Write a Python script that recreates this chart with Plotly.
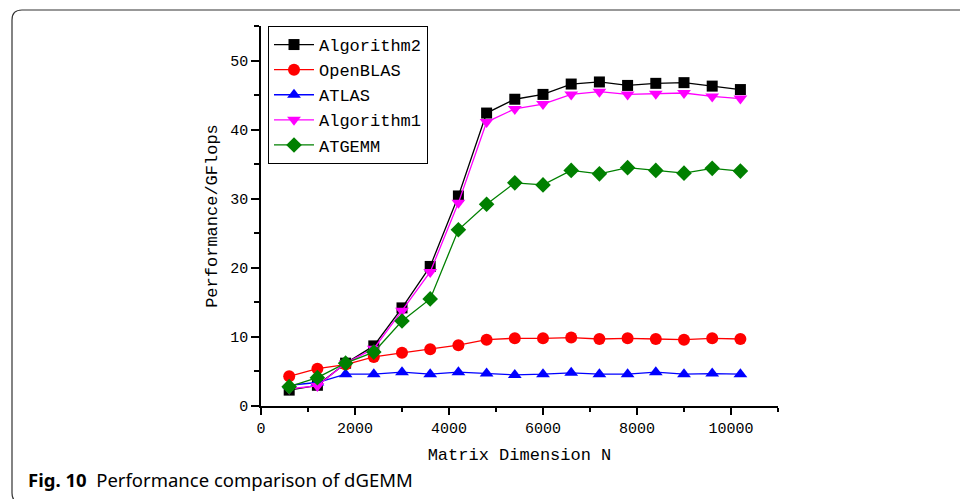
import plotly.graph_objects as go

N = [600, 1200, 1800, 2400, 3000, 3600, 4200, 4800, 5400, 6000,
     6600, 7200, 7800, 8400, 9000, 9600, 10200]

algorithm2 = [2.3, 3.0, 6.2, 8.7, 14.2, 20.2, 30.4, 42.4, 44.4, 45.1,
              46.6, 46.9, 46.4, 46.7, 46.8, 46.3, 45.8]
openblas = [4.3, 5.4, 6.0, 7.1, 7.7, 8.2, 8.8, 9.6, 9.8, 9.8,
            9.9, 9.7, 9.8, 9.7, 9.6, 9.8, 9.7]
atlas = [3.0, 3.4, 4.6, 4.6, 4.9, 4.6, 4.9, 4.7, 4.5, 4.6,
         4.8, 4.6, 4.6, 4.9, 4.6, 4.7, 4.6]
algorithm1 = [2.5, 2.9, 6.2, 8.3, 13.8, 19.4, 29.4, 41.1, 43.0, 43.7,
              45.1, 45.5, 45.1, 45.2, 45.3, 44.8, 44.5]
atgemm = [2.8, 4.1, 6.2, 7.8, 12.3, 15.5, 25.5, 29.2, 32.3, 32.0,
          34.1, 33.6, 34.5, 34.1, 33.7, 34.4, 34.0]

x_ticks = [0, 2000, 4000, 6000, 8000, 10000]
y_ticks = [0, 10, 20, 30, 40, 50]

CHART_FONT = "Liberation Mono, Courier New, monospace"

series = [
    ("Algorithm2", algorithm2, "#000000", "square", 11),
    ("OpenBLAS", openblas, "#ff0000", "circle", 12),
    ("ATLAS", atlas, "#0000ff", "triangle-up", 12),
    ("Algorithm1", algorithm1, "#ff00ff", "triangle-down", 12),
    ("ATGEMM", atgemm, "#008000", "diamond", 12),
]

fig = go.Figure()
for name, vals, color, sym, sz in series:
    fig.add_trace(go.Scatter(
        x=N, y=vals, name=name, mode="lines+markers",
        line=dict(color=color, width=1.3),
        marker=dict(symbol=sym, size=sz, color=color, line=dict(width=0)),
    ))

L, R, T, B = 261, 182, 26, 93
W, H = 960, 499
pw, ph = W - L - R, H - T - B


def px(x):
    return (x - L) / pw


def py(y):
    return (H - B - y) / ph


# rounded frame around figure + caption
r = 10
left, top, right, bottom = 12, 10, 970, 503
path = (f"M {px(right)},{py(top)} L {px(left + r)},{py(top)} "
        f"Q {px(left)},{py(top)} {px(left)},{py(top + r)} "
        f"L {px(left)},{py(bottom - r)} "
        f"Q {px(left)},{py(bottom)} {px(left + r)},{py(bottom)} "
        f"L {px(right)},{py(bottom)}")

fig.update_layout(
    width=W, height=H,
    margin=dict(l=L, r=R, t=T, b=B, pad=0, autoexpand=False),
    plot_bgcolor="white", paper_bgcolor="white",
    font=dict(family=CHART_FONT, color="#000000"),
    showlegend=True,
    legend=dict(
        x=px(268), y=1.0, xanchor="left", yanchor="top",
        bordercolor="#000000", borderwidth=1, bgcolor="white",
        font=dict(family=CHART_FONT, size=17, color="#000000"),
        tracegroupgap=0, itemwidth=40,
    ),
    xaxis=dict(
        range=[0, 11000], tickvals=x_ticks, ticktext=[str(v) for v in x_ticks],
        showgrid=False, zeroline=False, showline=True, linecolor="#000000",
        linewidth=1.5, ticks="outside", ticklen=7, tickwidth=1.5, tickcolor="#000000",
        minor=dict(dtick=1000, tick0=0, ticks="outside", ticklen=4, tickwidth=1.5,
                   tickcolor="#000000", showgrid=False),
        tickfont=dict(family=CHART_FONT, size=15),
        title=dict(text="Matrix Dimension N", font=dict(family=CHART_FONT, size=17),
                   standoff=11),
        automargin=False,
    ),
    yaxis=dict(
        range=[0, 55], tickvals=y_ticks, ticktext=[str(v) for v in y_ticks],
        showgrid=False, zeroline=False, showline=True, linecolor="#000000",
        linewidth=1.5, ticks="outside", ticklen=8, tickwidth=1.5, tickcolor="#000000",
        minor=dict(dtick=5, tick0=0, ticks="outside", ticklen=5, tickwidth=1.5,
                   tickcolor="#000000", showgrid=False),
        tickfont=dict(family=CHART_FONT, size=15),
        title=dict(text="Performance/GFlops", font=dict(family=CHART_FONT, size=17),
                   standoff=8),
        automargin=False,
    ),
    shapes=[dict(type="path", xref="paper", yref="paper", path=path,
                 line=dict(color="#333333", width=1.2), fillcolor="rgba(0,0,0,0)")],
    annotations=[dict(
        xref="paper", yref="paper", x=px(26), y=py(479),
        xanchor="left", yanchor="middle", showarrow=False,
        text="<b>Fig. 10</b>  Performance comparison of dGEMM",
        font=dict(family="Noto Sans", size=18.5, color="#000000"),
    )],
)

fig.write_html("out.html", config={"displayModeBar": False},
               post_script="document.body.style.margin='0';document.body.style.overflow='hidden';")
